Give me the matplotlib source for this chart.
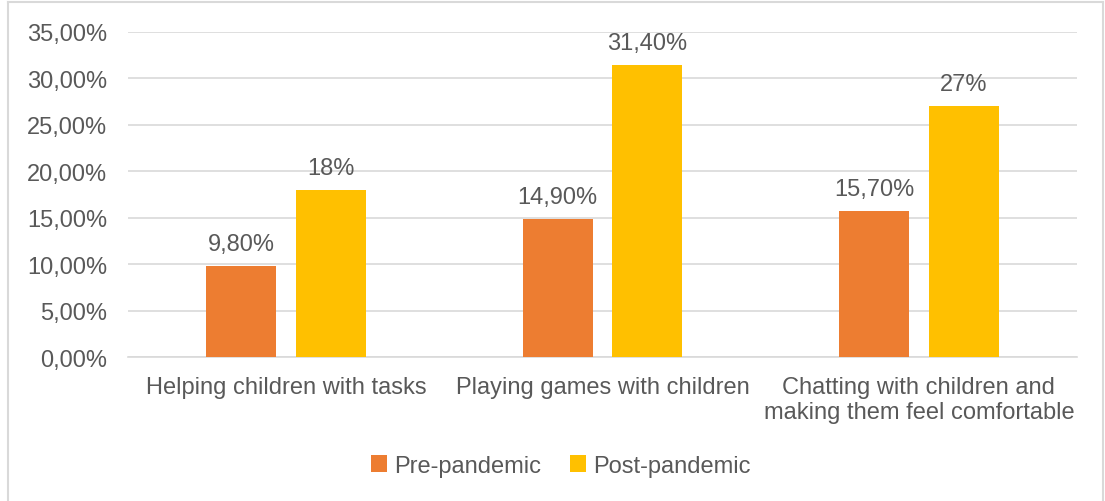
import matplotlib
matplotlib.use("Agg")
import matplotlib.pyplot as plt
import numpy as np
from matplotlib.lines import Line2D
from matplotlib.patches import Patch

plt.rcParams['font.family'] = ['Liberation Sans', 'DejaVu Sans']

categories = ["Helping children with tasks",
              "Playing games with children",
              "Chatting with children and\nmaking them feel comfortable"]
pre_pandemic = [0.098, 0.149, 0.157]
post_pandemic = [0.18, 0.314, 0.27]
pre_labels = ["9,80%", "14,90%", "15,70%"]
post_labels = ["18%", "31,40%", "27%"]
yticks = [0, 0.05, 0.10, 0.15, 0.20, 0.25, 0.30, 0.35]
ytick_labels = ["0,00%", "5,00%", "10,00%", "15,00%", "20,00%", "25,00%", "30,00%", "35,00%"]

TEXT = "#595959"
ORANGE = "#ED7D31"
YELLOW = "#FFC000"
GRID = "#D9D9D9"
FS = 17

W, H = 1105, 502
fig = plt.figure(figsize=(W / 100, H / 100), dpi=100)
ax = fig.add_axes([128 / W, 1 - 358 / H, (1077 - 128) / W, (358 - 33) / H])

x = np.arange(len(categories))
bw = 0.221
off = 0.142
b1 = ax.bar(x - off, pre_pandemic, bw, color=ORANGE, zorder=3)
b2 = ax.bar(x + off, post_pandemic, bw, color=YELLOW, zorder=3)

for bars, labels in ((b1, pre_labels), (b2, post_labels)):
    for rect, lab in zip(bars, labels):
        ax.annotate(lab, (rect.get_x() + rect.get_width() / 2, rect.get_height()),
                    xytext=(0, 11.5), textcoords="offset points",
                    ha="center", va="baseline", fontsize=FS, color=TEXT)

ax.set_xlim(-0.5, 2.5)
ax.set_ylim(0, 0.35)
ax.set_yticks(yticks)
ax.set_yticklabels(ytick_labels, fontsize=FS, color=TEXT)
ax.set_xticks(x)
ax.set_xticklabels(categories, fontsize=FS, color=TEXT, linespacing=1.15)
ax.tick_params(axis="y", length=0, pad=15)
ax.tick_params(axis="x", length=0, pad=14)
ax.grid(axis="y", color=GRID, linewidth=1.2, zorder=0)
for s in ("top", "right", "left"):
    ax.spines[s].set_visible(False)
ax.spines["bottom"].set_color(GRID)
ax.spines["bottom"].set_linewidth(1.2)

handles = [Patch(facecolor=ORANGE, label="Pre-pandemic"),
           Patch(facecolor=YELLOW, label="Post-pandemic")]
fig.legend(handles=handles, loc="center", bbox_to_anchor=(561 / W, 1 - 467 / H),
           ncol=2, frameon=False, fontsize=FS, labelcolor=TEXT,
           handlelength=0.7, handleheight=0.7, handletextpad=0.3, columnspacing=1.2)

# chart area border
bc = "#D9D9D9"
fig.add_artist(Line2D([8 / W, 8 / W], [0, 1 - 3 / H], color=bc, lw=1.5, transform=fig.transFigure))
fig.add_artist(Line2D([8 / W, 1103 / W], [1 - 3 / H, 1 - 3 / H], color=bc, lw=1.5, transform=fig.transFigure))
fig.add_artist(Line2D([1103 / W, 1103 / W], [0, 1 - 3 / H], color=bc, lw=1.5, transform=fig.transFigure))

fig.savefig("out.png", dpi=100)
